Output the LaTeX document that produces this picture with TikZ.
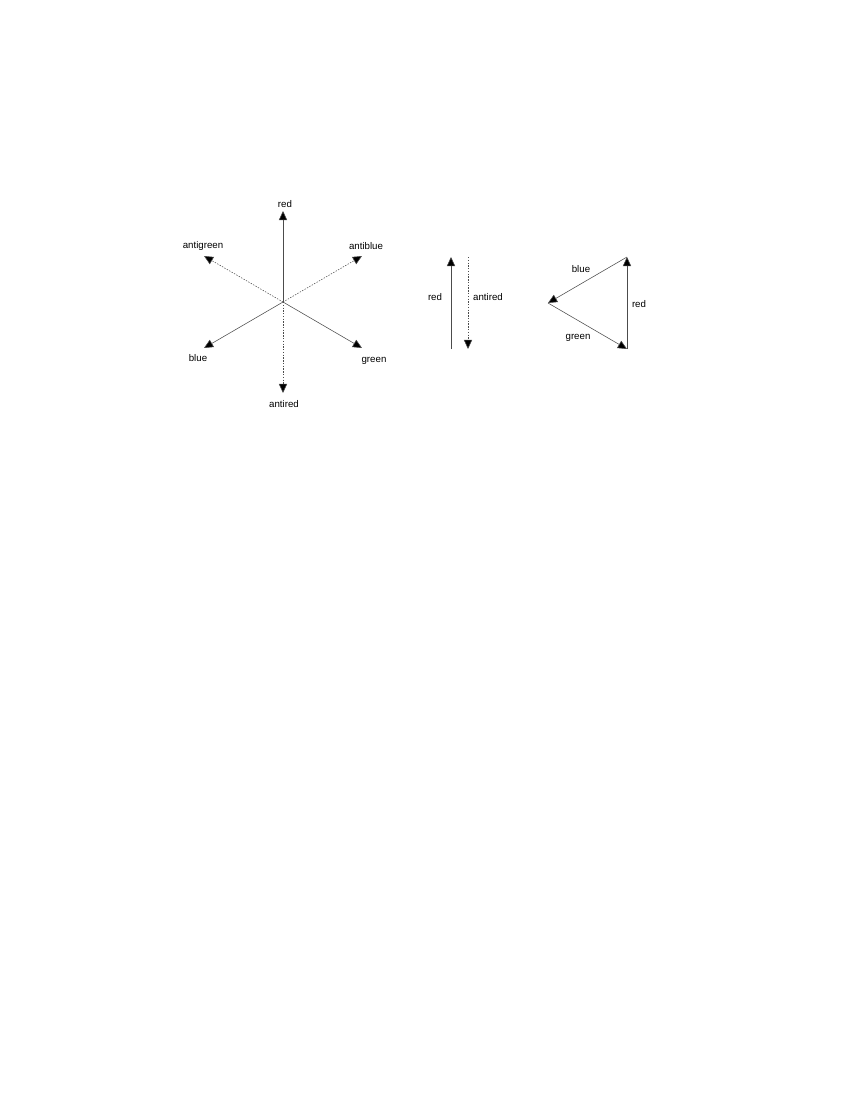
\documentclass[tikz,border=0pt]{standalone}
\usepackage{fontspec}
\setmainfont{Liberation Sans}
\usetikzlibrary{arrows.meta}
\begin{document}
\begin{tikzpicture}[x=0.01in,y=-0.01in,
  vec/.style={line width=0.4pt,draw=black!70,-{Triangle[length=6.6pt,width=6pt,fill=black]}},
  antivec/.style={vec,dash pattern=on 1pt off 1pt},
  lbl/.style={font=\fontsize{7}{8}\selectfont,inner sep=0pt}]
\useasboundingbox (0,0) rectangle (850,1100);
% star
\coordinate (c) at (283,302);
\coordinate (tr) at (283,211);
\coordinate (tar) at (283,393);
\coordinate (tag) at (204,256);
\coordinate (tab) at (362,256);
\coordinate (tb) at (204,348);
\coordinate (tg) at (362,348);
\draw[vec] (c) -- (tr);
\draw[vec] (c) -- (tb);
\draw[vec] (c) -- (tg);
\draw[antivec] (c) -- (tar);
\draw[antivec] (c) -- (tag);
\draw[antivec] (c) -- (tab);
\node[lbl] (lr) at (285,204) {red};
\node[lbl] (lag) at (203,246) {antigreen};
\node[lbl] (lab) at (366,246) {antiblue};
\node[lbl] (lb) at (198,358) {blue};
\node[lbl] (lg) at (374,361) {green};
\node[lbl] (lar) at (284,404) {antired};
% pair
\coordinate (pr1) at (451,349);
\coordinate (pr2) at (451,257);
\coordinate (pa1) at (468,257);
\coordinate (pa2) at (468,349);
\draw[vec] (pr1) -- (pr2);
\draw[antivec] (pa1) -- (pa2);
\node[lbl] (plr) at (435,297) {red};
\node[lbl] (pla) at (488,297) {antired};
% triangle
\coordinate (tt) at (627,257);
\coordinate (tl) at (548,303);
\coordinate (tbm) at (627,349);
\draw[vec] (tbm) -- (tt);
\draw[vec] (tt) -- (tl);
\draw[vec] (tl) -- (tbm);
\node[lbl] (tlb) at (581,269) {blue};
\node[lbl] (tlr) at (639,304) {red};
\node[lbl] (tlg) at (578,338) {green};
\end{tikzpicture}
\end{document}
